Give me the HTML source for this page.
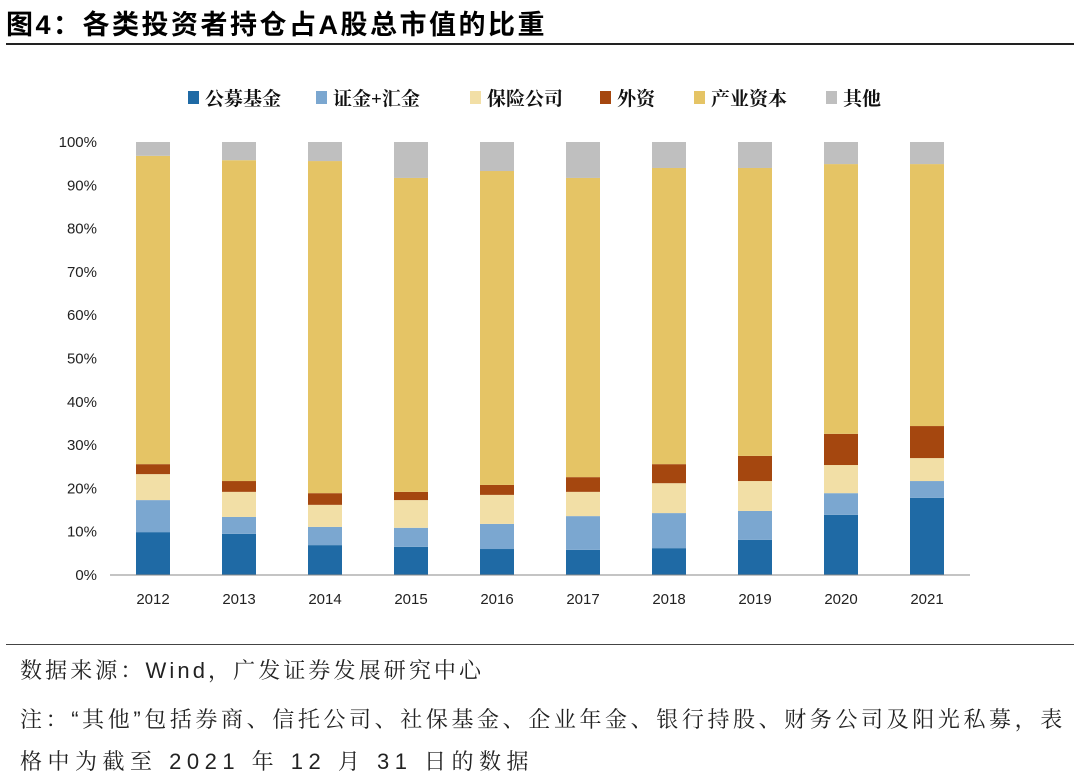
<!DOCTYPE html>
<html><head><meta charset="utf-8"><style>
body{margin:0;width:1080px;height:782px;background:#fff;overflow:hidden;font-family:"Liberation Sans","Noto Sans CJK SC",sans-serif;}
#title{position:absolute;left:6px;top:3px;font-size:27px;letter-spacing:2.5px;font-weight:bold;color:#000;}
#rule{position:absolute;left:6px;top:43px;width:1068px;height:2px;background:#222;}
#rule2{position:absolute;left:6px;top:644px;width:1068px;height:1px;background:#444;}
.note{position:absolute;left:20px;font-size:22px;letter-spacing:3.6px;color:#222;font-family:"Liberation Sans","Noto Serif CJK SC",serif;white-space:nowrap;}
</style></head><body>
<div id="title">图4：各类投资者持仓占A股总市值的比重</div>
<div id="rule"></div>
<svg id="chart" width="1080" height="782" style="position:absolute;left:0;top:0"></svg>
<div id="rule2"></div>
<div class="note" style="top:654px;letter-spacing:3.1px">数据来源：Wind，广发证券发展研究中心</div>
<div class="note" style="top:703px">注：“其他”包括券商、信托公司、社保基金、企业年金、银行持股、财务公司及阳光私募，表</div>
<div class="note" style="top:745px;letter-spacing:5.5px">格中为截至 2021 年 12 月 31 日的数据</div>
<script>
const years=["2012","2013","2014","2015","2016","2017","2018","2019","2020","2021"];
const seriesNames=["公募基金","证金+汇金","保险公司","外资","产业资本","其他"];
const fund=[9.9,9.5,6.9,6.5,6.0,5.8,6.2,8.1,13.9,17.8];
const csf=[7.4,3.9,4.2,4.4,5.8,7.8,8.1,6.7,5.0,3.9];
const insurance=[6.0,5.8,5.1,6.4,6.7,5.6,6.9,6.9,6.5,5.3];
const foreign=[2.3,2.5,2.7,1.9,2.3,3.4,4.4,5.8,7.2,7.4];
const industrial=[71.2,74.1,76.7,72.5,72.5,69.1,68.4,66.5,62.3,60.5];
const other=[3.2,4.2,4.4,8.3,6.7,8.3,6.0,6.0,5.1,5.1];
const yTicks=[0,10,20,30,40,50,60,70,80,90,100];
const colors=["#1f6aa5","#7ba7d0","#f2dfa6","#a5470f","#e5c465","#bfbfbf"];
const series=[fund,csf,insurance,foreign,industrial,other];
const svg=document.getElementById('chart');const NS="http://www.w3.org/2000/svg";
const x0=110,x1=970,y0=575,y1=142;
const yS=v=>y0-(v/100)*(y0-y1);
const step=(x1-x0)/years.length;const xC=i=>x0+step*(i+0.5);const bw=34;
function mk(t,a){const e=document.createElementNS(NS,t);for(const k in a)e.setAttribute(k,a[k]);svg.appendChild(e);return e;}
yTicks.forEach(t=>{const e=mk('text',{x:97,y:yS(t)+5,'text-anchor':'end','font-size':15,fill:'#222'});e.textContent=t+'%';

});
years.forEach((y,i)=>{let acc=0;series.forEach((s,k)=>{const r=mk('rect',{x:xC(i)-bw/2,y:yS(acc+s[i]),width:bw,height:yS(acc)-yS(acc+s[i]),fill:colors[k]});

acc+=s[i];});
const t=mk('text',{x:xC(i),y:604,'text-anchor':'middle','font-size':15,fill:'#222'});t.textContent=y;

});
const ax=mk('line',{x1:x0,x2:x1,y1:y0,y2:y0,stroke:'#888','stroke-width':1});


const lx=[188,316,470,600,694,826];
seriesNames.forEach((n,k)=>{const r=mk('rect',{x:lx[k],y:91,width:11,height:13,fill:colors[k]});


const t=mk('text',{x:lx[k]+17,y:105,'font-size':19,'font-weight':'bold',fill:'#111','font-family':'"Liberation Serif","Noto Serif CJK SC",serif'});t.textContent=n;

});
</script>
</body></html>
